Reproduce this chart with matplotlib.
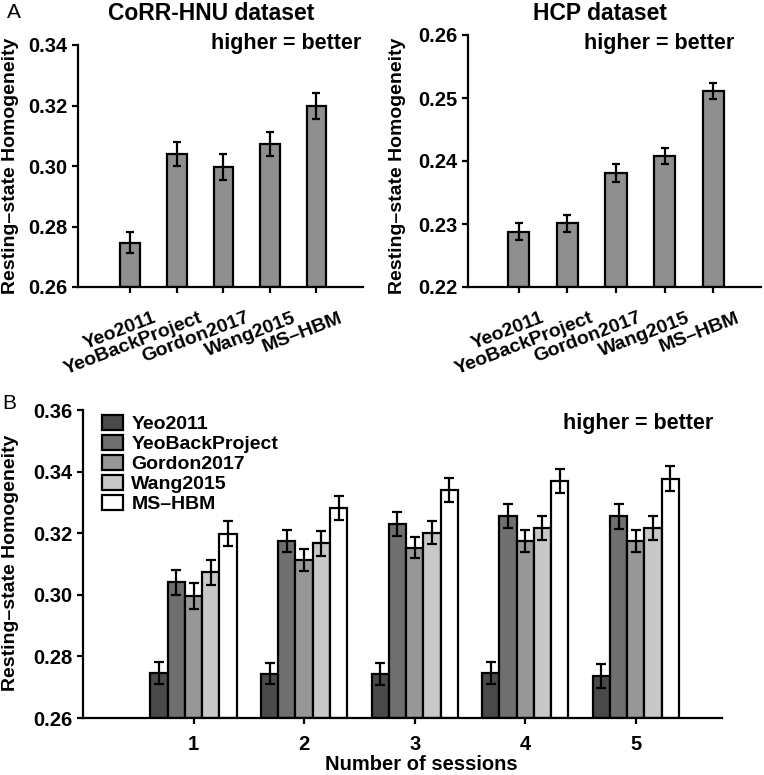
import numpy as np
import matplotlib
matplotlib.use('Agg')
import matplotlib.pyplot as plt
import matplotlib.transforms as mtransforms

plt.rcParams['font.family'] = ['Liberation Sans', 'DejaVu Sans']
plt.rcParams['font.weight'] = 'bold'

methods = ['Yeo2011', 'YeoBackProject', 'Gordon2017', 'Wang2015', 'MS\u2013HBM']

# panel A, CoRR-HNU
hnu_mean = [0.2746, 0.3040, 0.2996, 0.3073, 0.3199]
hnu_err = [0.0035, 0.0040, 0.0043, 0.0040, 0.0042]

# panel A, HCP
hcp_mean = [0.2288, 0.2301, 0.2381, 0.2408, 0.2511]
hcp_err = [0.0013, 0.0014, 0.0014, 0.0013, 0.0013]

# panel B, sessions x methods
sessions = [1, 2, 3, 4, 5]
sess_mean = {
    'Yeo2011':        [0.2746, 0.2743, 0.2744, 0.2747, 0.2736],
    'YeoBackProject': [0.3040, 0.3175, 0.3230, 0.3256, 0.3255],
    'Gordon2017':     [0.2996, 0.3113, 0.3153, 0.3175, 0.3174],
    'Wang2015':       [0.3073, 0.3167, 0.3201, 0.3218, 0.3218],
    'MS\u2013HBM':    [0.3199, 0.3283, 0.3341, 0.3370, 0.3377],
}
sess_err = {
    'Yeo2011':        [0.0035, 0.0034, 0.0036, 0.0036, 0.0038],
    'YeoBackProject': [0.0040, 0.0037, 0.0038, 0.0039, 0.0040],
    'Gordon2017':     [0.0043, 0.0035, 0.0035, 0.0036, 0.0036],
    'Wang2015':       [0.0040, 0.0040, 0.0037, 0.0039, 0.0039],
    'MS\u2013HBM':    [0.0042, 0.0039, 0.0039, 0.0040, 0.0040],
}
sess_colors = ['#4a4a4a', '#6f6f6f', '#979797', '#c8c8c8', '#ffffff']

W, H = 764, 775
fig = plt.figure(figsize=(W / 100, H / 100), dpi=100)


def box(x0, y0, x1, y1):
    # pixel box (top-left origin) -> figure fraction
    return [x0 / W, 1 - y1 / H, (x1 - x0) / W, (y1 - y0) / H]


def ftext(x, y, s, **kw):
    # text placed in pixel coords of the figure
    fig.text(x / W, 1 - y / H, s, **kw)


def style(ax):
    for s in ['top', 'right']:
        ax.spines[s].set_visible(False)
    for s in ['left', 'bottom']:
        ax.spines[s].set_linewidth(1.6)
    ax.tick_params(direction='out', length=4, width=1.6, labelsize=14.5)
    for lab in ax.get_yticklabels():
        lab.set_fontweight('bold')


def panel_a(ax, mean, err, lims, ticks, xl, width):
    x = np.arange(1, 6)
    ax.bar(x, np.array(mean) - lims[0], bottom=lims[0], width=width,
           color='#8f8f8f', edgecolor='black', linewidth=1.6, zorder=2)
    ax.errorbar(x, mean, yerr=err, fmt='none', ecolor='black',
                elinewidth=1.6, capsize=3, capthick=1.6, zorder=3)
    ax.set_ylim(*lims)
    ax.set_xlim(*xl)
    ax.set_yticks(ticks)
    ax.set_yticklabels(['%.2f' % t for t in ticks])
    ax.set_xticks(x)
    style(ax)
    off = mtransforms.ScaledTranslation(0.22, -0.12, fig.dpi_scale_trans)
    ax.set_xticklabels(methods, rotation=21, ha='right',
                       rotation_mode='anchor', fontsize=14,
                       fontweight='bold')
    for lab in ax.get_xticklabels():
        lab.set_transform(lab.get_transform() + off)


ax1 = fig.add_axes(box(78, 45, 363, 287))
panel_a(ax1, hnu_mean, hnu_err, (0.26, 0.34),
        [0.26, 0.28, 0.30, 0.32, 0.34], (-0.12, 6.0), 0.42)
ftext(11, 166, 'Resting\u2013state Homogeneity', rotation=90, ha='center',
      va='center', fontsize=14, fontweight='bold')
ftext(361, 43, 'higher = better', ha='right', va='center', fontsize=15.5,
      fontweight='bold')
ftext(211, 13, 'CoRR-HNU dataset', ha='center', va='center',
      fontsize=16.5, fontweight='bold')

ax2 = fig.add_axes(box(468, 35, 761, 287))
panel_a(ax2, hcp_mean, hcp_err, (0.22, 0.26),
        [0.22, 0.23, 0.24, 0.25, 0.26], (-0.04, 5.98), 0.44)
ftext(398, 166, 'Resting\u2013state Homogeneity', rotation=90, ha='center',
      va='center', fontsize=14, fontweight='bold')
ftext(734, 44, 'higher = better', ha='right', va='center', fontsize=15.5,
      fontweight='bold')
ftext(600, 13, 'HCP dataset', ha='center', va='center',
      fontsize=16.5, fontweight='bold')

# panel B
ax3 = fig.add_axes(box(83, 410, 722, 718))
bw = 0.156
xs = np.array(sessions, dtype=float)
for i, m in enumerate(methods):
    pos = xs + (i - 2) * bw
    vals = np.array(sess_mean[m])
    ax3.bar(pos, vals - 0.26, bottom=0.26, width=bw, color=sess_colors[i],
            edgecolor='black', linewidth=1.6, label=m, zorder=2)
    ax3.errorbar(pos, vals, yerr=sess_err[m], fmt='none', ecolor='black',
                 elinewidth=1.6, capsize=3.5, capthick=1.6, zorder=3)
ax3.set_ylim(0.26, 0.36)
ax3.set_xlim(0.0, 5.78)
ax3.set_yticks([0.26, 0.28, 0.30, 0.32, 0.34, 0.36])
ax3.set_yticklabels(['%.2f' % t for t in [0.26, 0.28, 0.30, 0.32, 0.34, 0.36]])
ax3.set_xticks(sessions)
ax3.set_xticklabels([str(s) for s in sessions], fontsize=14.5,
                    fontweight='bold')
style(ax3)
ax3.tick_params(axis='x', pad=8)
ftext(421, 764, 'Number of sessions', ha='center', va='center',
      fontsize=14.5, fontweight='bold')
ftext(11, 563, 'Resting\u2013state Homogeneity', rotation=90, ha='center',
      va='center', fontsize=14, fontweight='bold')
ftext(713, 423, 'higher = better', ha='right', va='center', fontsize=15.5,
      fontweight='bold')
leg = ax3.legend(loc='upper left', bbox_to_anchor=(0.018, 1.01), frameon=False,
                 prop={'size': 14, 'weight': 'bold'}, handlelength=1.05,
                 handleheight=0.85, handletextpad=0.45, labelspacing=0.08,
                 borderaxespad=0.0)

ftext(14, 12, 'A', ha='center', va='center', fontsize=15, fontweight='normal')
ftext(9, 404, 'B', ha='center', va='center', fontsize=15, fontweight='normal')

fig.savefig('out.png', dpi=100)
